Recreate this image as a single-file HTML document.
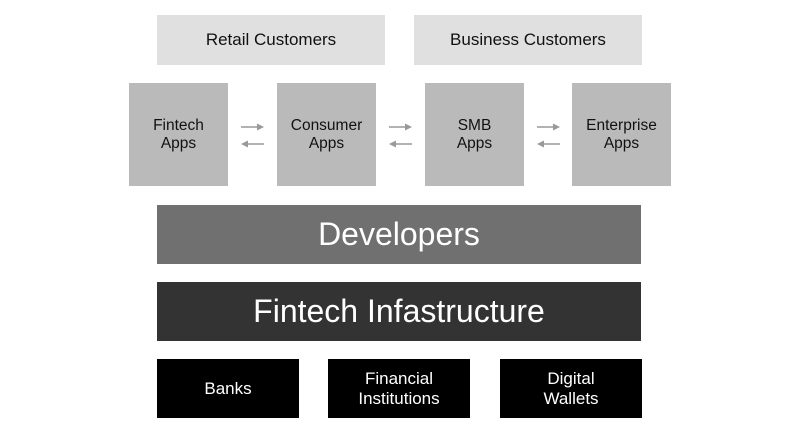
<!DOCTYPE html>
<html><head><style>
body{margin:0;width:800px;height:434px;background:#fff;position:relative;font-family:"Liberation Sans",Arial,sans-serif;overflow:hidden}
.b{position:absolute;display:flex;align-items:center;justify-content:center;text-align:center;line-height:1.15}
.c{background:#e0e0e0;color:#111;font-size:17px;top:15px;height:50px;width:228px}
.a{background:#bababa;color:#111;font-size:15.5px;top:83px;height:103px;width:99px}
.k{background:#000;color:#fff;font-size:17px;top:359px;height:59px;width:142px}
</style></head><body>
<div class="b c" style="left:157px">Retail Customers</div>
<div class="b c" style="left:414px">Business Customers</div>
<div class="b a" style="left:129px">Fintech<br>Apps</div>
<div class="b a" style="left:277px">Consumer<br>Apps</div>
<div class="b a" style="left:425px">SMB<br>Apps</div>
<div class="b a" style="left:572px">Enterprise<br>Apps</div>
<svg width="800" height="434" style="position:absolute;left:0;top:0">
<g stroke="#999" stroke-width="1.5" fill="#999">
<line x1="241" y1="127" x2="258" y2="127"/><polygon points="264,127 257,123.5 257,130.5" stroke="none"/>
<line x1="247" y1="144" x2="264" y2="144"/><polygon points="241,144 248,140.5 248,147.5" stroke="none"/>
<line x1="389" y1="127" x2="406" y2="127"/><polygon points="412,127 405,123.5 405,130.5" stroke="none"/>
<line x1="395" y1="144" x2="412" y2="144"/><polygon points="389,144 396,140.5 396,147.5" stroke="none"/>
<line x1="537" y1="127" x2="554" y2="127"/><polygon points="560,127 553,123.5 553,130.5" stroke="none"/>
<line x1="543" y1="144" x2="560" y2="144"/><polygon points="537,144 544,140.5 544,147.5" stroke="none"/>
</g></svg>
<div class="b" style="left:157px;top:205px;width:484px;height:59px;background:#707070;color:#fff;font-size:32px">Developers</div>
<div class="b" style="left:157px;top:282px;width:484px;height:59px;background:#333;color:#fff;font-size:32px">Fintech Infastructure</div>
<div class="b k" style="left:157px">Banks</div>
<div class="b k" style="left:328px">Financial<br>Institutions</div>
<div class="b k" style="left:500px">Digital<br>Wallets</div>
</body></html>
